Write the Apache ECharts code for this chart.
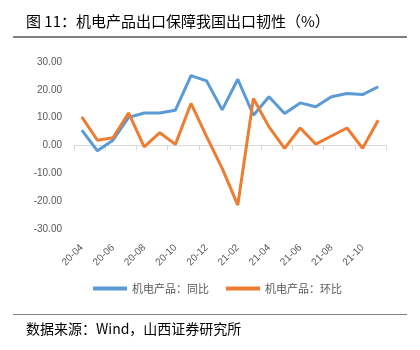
<!DOCTYPE html>
<html>
<head>
<meta charset="utf-8">
<script src="https://cdn.jsdelivr.net/npm/echarts@6/dist/echarts.min.js"></script>
<style>html,body{margin:0;padding:0;background:#fff}#c{width:420px;height:350px}</style>
</head>
<body>
<div id="c"></div>
<script>
const categories = ['20-04','20-05','20-06','20-07','20-08','20-09','20-10','20-11','20-12','21-01','21-02','21-03','21-04','21-05','21-06','21-07','21-08','21-09','21-10','21-11'];
const yoyValues = [5.5,-1.9,1.9,10.1,11.7,11.7,12.7,25.1,23.2,12.8,23.8,10.9,17.5,11.5,15.3,13.9,17.5,18.7,18.3,21.1];
const momValues = [10.3,1.9,2.8,11.7,-0.5,4.6,0.4,15.1,3.2,-8.2,-21.4,16.9,6.7,-1.0,6.3,0.5,3.4,6.3,-1.0,9.1];
const yTicks = {min:-30, max:30, interval:10};
const seriesNames = ['机电产品：同比','机电产品：环比'];
const titleText = '图 11：机电产品出口保障我国出口韧性（%）';
const sourceText = '数据来源：Wind，山西证券研究所';

const chart = echarts.init(document.getElementById('c'), null, {renderer:'canvas'});
const cjk = '"Noto Sans CJK SC", "Liberation Sans", sans-serif';
chart.setOption({
  animation:false,
  title:[
    {text:titleText, left:21, top:9, textStyle:{fontSize:15, fontWeight:'normal', color:'#000', fontFamily:cjk}},
    {text:sourceText, left:21, top:317, textStyle:{fontSize:14, fontWeight:'normal', color:'#000', fontFamily:'"Noto Sans CJK SC", "Liberation Serif", serif'}}
  ],
  graphic:[
    {type:'rect', shape:{x:13, y:36, width:394, height:2}, style:{fill:'#808080'}},
    {type:'rect', shape:{x:13, y:314, width:394, height:1}, style:{fill:'#808080'}}
  ],
  legend:{
    left:88, top:278, itemWidth:34, itemHeight:4, itemGap:17, icon:'rect',
    textStyle:{fontSize:11, color:'#595959', fontFamily:cjk},
    data:seriesNames
  },
  grid:{left:74, right:34, top:62, height:167, containLabel:false},
  xAxis:{
    type:'category', data:categories, boundaryGap:true,
    axisLine:{onZero:true, lineStyle:{color:'#d9d9d9', width:1}},
    axisTick:{show:true, interval:1, length:5, lineStyle:{color:'#d9d9d9'}},
    axisLabel:{interval:1, rotate:45, fontSize:10, color:'#595959', margin:17, fontFamily:'"Liberation Sans", sans-serif'},
    splitLine:{show:false}
  },
  yAxis:{
    type:'value', min:yTicks.min, max:yTicks.max, interval:yTicks.interval,
    axisLine:{show:false}, axisTick:{show:false}, splitLine:{show:false},
    axisLabel:{fontSize:10, color:'#595959', margin:12, formatter:v=>v.toFixed(2), fontFamily:'"Liberation Sans", sans-serif'}
  },
  series:[
    {name:seriesNames[0], type:'line', data:yoyValues, showSymbol:false, symbol:'none', lineStyle:{width:3, color:'#5B9BD5'}, itemStyle:{color:'#5B9BD5'}},
    {name:seriesNames[1], type:'line', data:momValues, showSymbol:false, symbol:'none', lineStyle:{width:3, color:'#ED7D31'}, itemStyle:{color:'#ED7D31'}}
  ]
});
</script>
</body>
</html>
